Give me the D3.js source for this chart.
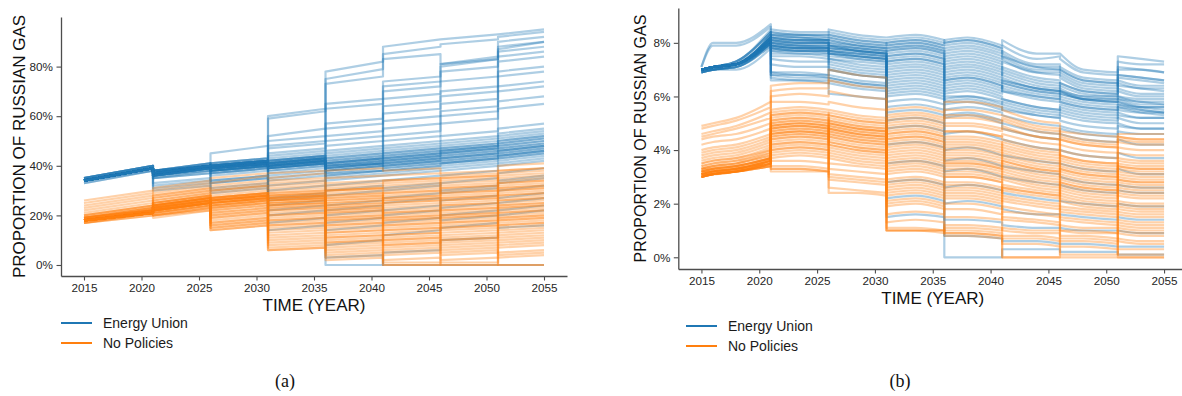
<!DOCTYPE html>
<html>
<head>
<meta charset="utf-8">
<script src="https://cdn.jsdelivr.net/npm/d3@7"></script>
<style>
  body { margin: 0; background: #fff; }
  svg { display: block; }
  text { font-family: "Liberation Sans", Arial, Helvetica, sans-serif; }
</style>
</head>
<body>
<svg id="chart" width="1182" height="396"></svg>
<script>
// ---------------------------------------------------------------------------
// Shared settings
// ---------------------------------------------------------------------------
const seriesNames  = ["Energy Union", "No Policies"];
const seriesColors = ["#1f77b4", "#ff7f0e"];
const xTickYears   = [2015, 2020, 2025, 2030, 2035, 2040, 2045, 2050, 2055];
const yTicksA      = [0, 0.2, 0.4, 0.6, 0.8];
const yTicksB      = [0, 0.02, 0.04, 0.06, 0.08];

// Policy periods; panel (a) stores the value at the start and end of each.
const knotYearsA = [[2015, 2021], [2021, 2026], [2026, 2031], [2031, 2036],
                    [2036, 2041], [2041, 2046], [2046, 2051], [2051, 2055]];
// Panel (b) stores a few yearly knots inside each period.
const knotYearsB = [[2015, 2016, 2018, 2021], [2021, 2023.5, 2026], [2026, 2028.5, 2031],
                    [2031, 2033.5, 2036], [2036, 2038, 2041], [2041, 2044, 2046],
                    [2046, 2048, 2051], [2051, 2053, 2055]];

// ---------------------------------------------------------------------------
// Panel (a): proportion of Russian gas (%), one row per model run
// ---------------------------------------------------------------------------
const runsEnergyUnionA = [
  [34,39, 37,40, 45,48, 60,63, 78,82, 88,91, 91,93, 93,95],
  [34,39, 38,41, 41,43, 59,62, 75,79, 85,88, 89,91, 92,94],
  [34,39, 37,40, 40,42, 52,55, 73,76, 83,85, 81,84, 90,92],
  [34,39, 38,40, 41,43, 50,52, 65,67, 74,76, 80,83, 88,90],
  [35,40, 37,40, 40,42, 47,49, 63,65, 72,74, 78,80, 84,86],
  [34,39, 36,39, 39,41, 45,47, 57,59, 70,72, 74,76, 82,84],
  [34,39, 37,40, 40,42, 44,46, 55,57, 67,69, 70,72, 78,80],
  [34,39, 37,40, 41,43, 48,50, 52,54, 64,66, 68,70, 76,78],
  [33,38, 36,39, 39,41, 43,45, 50,52, 61,63, 65,67, 72,74],
  [34,39, 38,41, 40,42, 42,44, 48,50, 58,60, 62,64, 70,72],
  [34,39, 37,40, 39,41, 41,43, 46,48, 55,57, 60,62, 66,68],
  [35,40, 36,39, 38,40, 40,42, 45,47, 52,54, 57,59, 63,65],
  [34,39, 37,40, 40,42, 42,44, 44,46, 50,52, 81,83, 86,88],
  [34,39, 38,40, 40,42, 41,43, 43,45, 48,50, 52,54, 87,90],
  [34,39, 37,39, 39,41, 41,43, 42,44, 46,48, 50,52, 55,57],
  [34,39, 36,39, 39,41, 40,42, 41,43, 45,47, 48,50, 53,55],
  [34,38, 37,40, 39,41, 40,42, 40,42, 44,46, 47,49, 51,53],
  [34,39, 37,40, 38,40, 39,41, 39,41, 43,45, 46,48, 50,52],
  [35,40, 38,40, 39,41, 40,42, 40,41, 42,44, 45,47, 48,50],
  [34,39, 37,39, 38,40, 39,41, 38,40, 41,43, 44,46, 47,49],
  [34,39, 36,39, 38,40, 38,40, 37,39, 40,42, 43,45, 46,48],
  [34,39, 37,40, 39,41, 39,41, 38,40, 40,42, 42,44, 45,47],
  [33,38, 36,38, 37,39, 37,39, 37,38, 39,41, 41,43, 44,46],
  [34,39, 35,38, 37,39, 36,38, 36,38, 38,40, 40,42, 43,45],
  [34,39, 36,39, 37,39, 35,37, 35,37, 37,39, 39,41, 42,44],
  [34,39, 35,37, 36,38, 34,36, 34,36, 36,38, 38,40, 41,43],
  [34,39, 37,40, 39,41, 40,42, 41,43, 43,45, 45,47, 47,49],
  [34,39, 38,41, 40,42, 41,43, 42,44, 44,46, 46,48, 49,51],
  [35,40, 38,40, 39,41, 40,42, 39,41, 41,43, 43,45, 46,48],
  [34,39, 37,39, 38,40, 39,41, 40,42, 42,44, 44,46, 46,48],
  [34,39, 36,38, 38,40, 39,41, 38,40, 39,41, 41,43, 44,46],
  [35,40, 37,40, 39,41, 40,42, 41,43, 45,47, 47,49, 50,52],
  [34,39, 38,41, 40,42, 41,43, 40,42, 42,44, 46,48, 49,51],
  [34,39, 37,40, 38,40, 38,40, 39,41, 41,43, 43,45, 45,47],
  [34,39, 36,39, 39,41, 40,42, 39,41, 40,42, 42,44, 44,46],
  [35,40, 37,40, 40,42, 42,44, 41,43, 43,45, 45,47, 48,50],
  [34,39, 37,40, 39,41, 41,43, 43,45, 47,49, 49,51, 52,54],
  [34,39, 38,40, 40,42, 39,41, 36,38, 38,40, 41,43, 43,45],
  [34,39, 33,35, 34,36, 30,32, 32,34, 34,36, 36,38, 40,42],
  [34,39, 35,37, 34,36, 32,34, 30,32, 31,33, 29,31, 33,35],
  [34,39, 32,34, 33,35, 27,29, 28,30, 30,32, 33,35, 37,39],
  [34,39, 31,33, 31,33, 24,26, 24,26, 27,29, 30,32, 34,36],
  [34,39, 36,39, 33,35, 26,28, 22,24, 20,22, 23,25, 27,29],
  [34,39, 30,32, 30,32, 20,22, 20,22, 22,24, 26,28, 30,32],
  [34,39, 37,40, 38,40, 22,24, 17,19, 25,27, 18,20, 22,24],
  [34,39, 36,39, 29,31, 17,19, 14,16, 17,19, 20,22, 25,27],
  [34,39, 37,40, 40,42, 14,16,  8,10, 12,14, 15,17, 20,22],
  [34,39, 37,40, 39,41, 41,43,  0, 0,  5, 6, 10,11, 15,16],
  [34,39, 37,40, 40,42, 42,44,  3, 4,  0, 0,  0, 0,  0, 0]
];

const runsNoPoliciesA = [
  [26,30, 31,34, 35,37, 37,38, 38,39, 38,39, 37,38, 38,39],
  [25,29, 30,33, 33,36, 35,37, 35,36, 36,37, 36,37, 37,38],
  [24,28, 29,32, 32,34, 34,35, 33,34, 34,35, 35,36, 36,37],
  [23,27, 28,31, 31,33, 33,34, 31,32, 33,34, 34,35, 34,35],
  [22,26, 28,31, 30,32, 32,33, 30,31, 31,32, 32,33, 33,34],
  [21,25, 27,30, 29,31, 30,31, 29,30, 30,31, 31,32, 32,33],
  [20,24, 26,29, 28,30, 29,30, 28,29, 29,30, 30,31, 31,32],
  [20,24, 26,29, 27,29, 28,29, 26,27, 28,29, 29,30, 30,31],
  [19,23, 25,28, 26,28, 27,28, 25,26, 26,27, 27,28, 28,29],
  [19,23, 25,28, 26,28, 26,27, 24,25, 25,26, 26,27, 27,28],
  [19,23, 24,27, 25,27, 25,26, 23,24, 24,25, 25,26, 26,27],
  [19,22, 24,27, 24,26, 24,25, 22,23, 23,24, 24,25, 25,26],
  [18,22, 23,26, 24,26, 23,24, 21,22, 22,23, 23,24, 24,25],
  [18,22, 23,26, 23,25, 22,23, 20,21, 21,22, 22,23, 23,24],
  [18,22, 22,25, 22,24, 21,22, 19,20, 20,21, 21,22, 22,23],
  [18,21, 22,25, 21,23, 20,21, 18,19, 19,20, 20,21, 21,22],
  [18,21, 21,24, 20,22, 19,20, 17,18, 18,19, 19,20, 20,21],
  [18,21, 21,24, 20,22, 18,19, 16,17, 17,18, 18,19, 19,20],
  [18,21, 21,24, 19,21, 17,18, 15,16, 16,17, 17,18, 18,19],
  [18,21, 20,23, 19,21, 16,17, 14,15, 15,16, 16,17, 17,18],
  [17,21, 20,23, 18,20, 15,16, 13,14, 14,15, 15,16, 16,17],
  [17,21, 20,23, 17,19, 14,15, 12,13, 13,14, 14,15, 15,16],
  [17,20, 20,22, 17,19, 13,14, 11,12, 12,13, 12,13, 13,14],
  [17,20, 19,22, 16,18, 12,13, 10,11, 11,12, 11,12, 12,13],
  [18,21, 22,25, 16,18, 11,12,  9,10, 10,11, 10,11, 11,12],
  [18,21, 22,25, 15,17, 10,11,  8, 9,  9,10,  9,10, 10,11],
  [18,21, 22,25, 15,17,  9,10,  7, 8,  8, 9,  8, 9,  9,10],
  [18,21, 22,25, 14,16,  8, 9,  6, 7,  7, 8,  7, 8,  8, 9],
  [18,21, 23,26, 14,16,  7, 8,  5, 6,  6, 7,  6, 7,  7, 8],
  [18,21, 23,26, 25,27,  6, 7,  4, 5,  5, 6,  5, 6,  5, 6],
  [18,21, 24,27, 26,28,  6, 7,  3, 4,  4, 5,  4, 5,  4, 5],
  [18,21, 24,27, 27,29, 28,29,  2, 3,  2, 3,  2, 3,  3, 4],
  [18,21, 23,26, 26,28, 27,28, 28,29,  0, 0, 35,36,  0, 0],
  [19,22, 25,28, 27,29, 29,30, 30,31,  1, 1,  1, 1, 38,39],
  [18,21, 22,25, 25,27, 26,27, 27,28,  0, 0,  0, 0,  0, 0],
  [20,24, 27,30, 30,32, 31,32, 32,33, 34,35,  0, 0, 40,41],
  [19,23, 25,28, 27,29, 28,29, 30,31, 32,33, 33,34, 35,36],
  [18,22, 24,27, 26,28, 27,28, 27,28, 29,30, 31,32, 33,34],
  [18,21, 23,26, 25,27, 26,27, 25,26, 27,28, 28,29, 31,32],
  [18,21, 23,26, 26,28, 25,26, 24,25, 26,27, 27,28, 29,30],
  [18,21, 22,25, 25,27, 24,25, 23,24, 25,26, 26,27, 28,29],
  [18,22, 24,27, 27,29, 27,28, 26,27, 27,28, 29,30, 30,31],
  [19,22, 24,27, 26,28, 26,27, 22,23, 21,22, 24,25, 26,27],
  [18,21, 23,26, 24,26, 25,26, 21,22, 19,20, 22,23, 24,25],
  [18,21, 22,25, 23,25, 24,25, 19,20, 18,19, 20,21, 23,24],
  [18,21, 22,25, 22,24, 23,24, 18,19, 16,17, 19,20, 21,22],
  [19,22, 24,27, 25,27, 22,23, 16,17, 14,15, 17,18, 19,20],
  [18,21, 23,26, 24,26, 20,21, 13,14, 12,13, 15,16, 18,19],
  [18,21, 22,25, 23,25, 18,19, 11,12, 10,11, 13,14, 16,17],
  [18,21, 21,24, 21,23, 16,17,  9,10,  8, 9, 10,11, 14,15]
];

// ---------------------------------------------------------------------------
// Panel (b): proportion of Russian gas (%), one row per model run
// ---------------------------------------------------------------------------
const runsEnergyUnionB = [
  [7.1,8.0,8.0,8.7, 8.5,8.4,8.4, 8.4,8.2,8.1, 8.1,8.2,8.0, 8.1,8.2,7.9, 8.1,7.6,7.6, 7.6,7.0,6.9, 7.5,7.4,7.3],
  [7.1,7.9,7.9,8.6, 8.4,8.3,8.3, 8.3,8.1,8.0, 8.0,8.1,7.9, 8.0,8.1,7.8, 7.9,7.4,7.5, 7.4,6.9,6.8, 7.3,7.2,7.2],
  [7.0,7.1,7.3,8.5, 8.3,8.3,8.2, 8.2,8.0,7.9, 7.9,8.0,7.8, 7.8,7.9,7.6, 7.7,7.2,7.2, 7.1,6.7,6.6, 7.0,7.0,6.9],
  [7.0,7.1,7.3,8.4, 8.2,8.2,8.1, 8.1,7.9,7.8, 7.7,7.8,7.6, 7.6,7.7,7.4, 7.5,7.0,7.0, 6.9,6.5,6.4, 6.8,6.7,6.6],
  [7.0,7.1,7.2,8.3, 8.1,8.1,8.0, 7.9,7.8,7.7, 7.6,7.7,7.5, 7.4,7.5,7.2, 7.3,6.9,6.8, 6.7,6.3,6.2, 6.6,6.4,6.4],
  [7.0,7.0,7.2,8.2, 8.0,8.0,8.0, 7.8,7.7,7.6, 7.4,7.5,7.3, 7.2,7.3,7.0, 7.1,6.7,6.6, 6.5,6.2,6.1, 6.3,6.1,6.1],
  [7.0,7.0,7.2,8.1, 7.9,7.9,7.8, 7.7,7.5,7.4, 7.2,7.3,7.1, 7.0,7.1,6.8, 6.9,6.5,6.4, 6.3,6.0,6.0, 6.0,5.9,5.9],
  [6.9,7.0,7.1,8.0, 7.8,7.8,7.7, 7.6,7.4,7.3, 7.0,7.1,6.9, 6.9,7.0,6.7, 6.7,6.3,6.2, 6.1,5.9,5.8, 5.9,5.7,5.7],
  [6.9,7.0,7.1,7.9, 7.7,7.7,7.6, 7.4,7.2,7.1, 6.8,6.9,6.7, 6.7,6.8,6.5, 6.5,6.2,6.1, 6.0,5.8,5.7, 5.8,5.6,5.5],
  [6.9,7.0,7.1,7.9, 7.6,7.6,7.5, 7.2,7.0,6.9, 6.6,6.7,6.5, 6.5,6.6,6.3, 6.4,6.1,6.0, 5.9,5.7,5.6, 5.7,5.5,5.4],
  [6.9,7.0,7.0,7.8, 7.5,7.5,7.4, 7.0,6.8,6.7, 6.4,6.5,6.3, 6.3,6.4,6.1, 6.2,6.0,5.9, 5.8,5.6,5.5, 5.6,5.4,5.3],
  [7.0,7.1,7.2,8.2, 8.4,8.3,8.3, 8.5,8.3,8.2, 8.2,8.3,8.1, 8.0,8.1,7.8, 7.5,7.1,7.0, 7.0,6.6,6.5, 6.4,6.3,6.2],
  [7.0,7.1,7.2,8.3, 8.2,8.1,8.1, 8.0,7.9,7.8, 7.8,7.9,7.7, 7.5,7.6,7.3, 6.6,6.3,6.2, 6.2,5.9,5.8, 5.8,5.6,5.6],
  [7.0,7.1,7.3,8.4, 8.3,8.2,8.2, 8.2,8.0,7.9, 8.0,8.1,7.9, 7.9,8.0,7.7, 7.6,7.1,7.1, 7.0,6.6,6.5, 6.7,6.6,6.5],
  [7.0,7.1,7.2,8.3, 8.2,8.1,8.1, 8.1,7.9,7.8, 7.8,7.9,7.7, 7.7,7.8,7.5, 7.4,6.9,6.9, 6.8,6.4,6.3, 6.5,6.3,6.3],
  [6.9,7.0,7.2,8.2, 8.1,8.0,8.0, 8.0,7.8,7.7, 7.7,7.8,7.6, 7.3,7.4,7.1, 7.0,6.6,6.5, 6.4,6.1,6.0, 6.2,6.0,6.0],
  [7.0,7.1,7.2,8.1, 8.0,7.9,7.9, 7.9,7.7,7.6, 7.5,7.6,7.4, 7.1,7.2,6.9, 6.8,6.4,6.3, 6.2,5.9,5.9, 6.0,5.8,5.8],
  [7.0,7.1,7.3,8.4, 8.3,8.2,8.1, 8.3,8.1,8.0, 7.9,8.0,7.8, 6.8,6.9,6.6, 6.5,6.2,6.1, 6.1,5.9,5.8, 5.9,5.8,5.7],
  [7.0,7.1,7.2,8.2, 8.1,8.0,8.0, 7.9,7.7,7.6, 7.3,7.4,7.2, 6.6,6.7,6.4, 6.2,5.9,5.8, 5.8,5.6,5.5, 5.7,5.6,5.6],
  [6.9,7.0,7.1,8.0, 7.9,7.8,7.8, 7.7,7.6,7.5, 7.1,7.2,7.0, 6.2,6.3,6.0, 5.9,5.6,5.5, 5.6,5.4,5.3, 5.6,5.5,5.4],
  [7.0,7.1,7.2,8.2, 6.9,6.8,6.8, 6.8,6.6,6.5, 6.3,6.4,6.2, 6.1,6.2,5.9, 5.9,5.6,5.5, 5.5,5.3,5.2, 5.4,5.2,5.2],
  [7.0,7.1,7.2,8.1, 6.8,6.7,6.7, 6.7,6.5,6.4, 6.2,6.3,6.1, 6.0,6.0,5.8, 5.7,5.4,5.3, 5.3,5.1,5.0, 5.2,5.0,5.0],
  [6.9,7.0,7.1,8.0, 6.7,6.6,6.6, 6.6,6.4,6.3, 6.0,6.1,5.9, 5.8,5.9,5.6, 5.5,5.3,5.2, 5.1,4.9,4.8, 5.0,4.8,4.8],
  [7.0,7.1,7.2,8.0, 6.6,6.6,6.5, 6.5,6.3,6.2, 5.8,5.9,5.7, 5.5,5.6,5.4, 5.3,5.0,4.9, 4.9,4.7,4.6, 4.7,4.6,4.6],
  [7.0,7.1,7.2,8.1, 6.8,6.8,6.7, 6.7,6.5,6.4, 6.1,6.2,6.0, 5.9,6.0,5.7, 5.8,5.5,5.4, 5.7,5.5,5.4, 5.5,5.4,5.4],
  [7.0,7.1,7.2,8.2, 6.9,6.9,6.8, 7.0,6.8,6.7, 6.5,6.6,6.4, 5.7,5.8,5.5, 5.6,5.3,5.2, 5.4,5.2,5.1, 5.3,5.2,5.2],
  [7.0,7.1,7.2,8.3, 7.4,7.3,7.3, 7.3,7.1,7.0, 6.9,7.0,6.8, 6.6,6.7,6.4, 6.3,6.0,5.9, 6.5,6.2,6.1, 7.1,7.0,6.9],
  [7.0,7.1,7.2,8.1, 7.2,7.1,7.1, 7.1,6.9,6.8, 6.7,6.8,6.6, 6.4,6.5,6.2, 6.6,6.3,6.2, 6.2,6.0,5.9, 6.8,6.7,6.6],
  [7.0,7.1,7.2,8.0, 7.9,7.8,7.8, 6.1,6.0,5.9, 5.4,5.5,5.3, 5.2,5.3,5.0, 5.0,4.7,4.6, 4.6,4.4,4.3, 4.4,4.2,4.2],
  [7.0,7.1,7.2,8.0, 7.8,7.7,7.7, 7.6,7.5,7.4, 5.6,5.7,5.5, 5.3,5.4,5.1, 4.8,4.5,4.4, 4.8,4.6,4.5, 4.9,4.8,4.8],
  [7.0,7.1,7.2,8.1, 8.0,7.9,7.9, 7.7,7.6,7.5, 4.8,4.9,4.7, 4.6,4.7,4.4, 4.4,4.1,4.0, 4.0,3.8,3.7, 3.9,3.7,3.7],
  [7.0,7.1,7.2,8.2, 8.1,8.0,8.0, 7.8,7.7,7.6, 4.2,4.3,4.1, 4.0,4.1,3.8, 3.8,3.6,3.5, 3.5,3.3,3.2, 3.3,3.1,3.1],
  [7.0,7.1,7.2,8.1, 7.9,7.8,7.8, 7.7,7.6,7.5, 5.1,5.2,5.0, 3.6,3.7,3.4, 3.4,3.2,3.1, 3.0,2.8,2.7, 2.7,2.6,2.6],
  [7.0,7.1,7.2,8.0, 7.8,7.7,7.7, 7.5,7.4,7.3, 3.5,3.6,3.4, 3.2,3.3,3.0, 3.0,2.8,2.7, 2.7,2.5,2.4, 2.5,2.4,2.4],
  [7.0,7.1,7.2,8.1, 7.9,7.8,7.8, 7.6,7.5,7.4, 2.8,2.9,2.7, 2.6,2.7,2.5, 2.4,2.2,2.1, 2.1,2.0,1.9, 2.0,1.9,1.9],
  [7.0,7.1,7.2,8.2, 8.2,8.1,8.1, 7.9,7.8,7.7, 2.2,2.3,2.1, 2.0,2.1,1.9, 1.8,1.6,1.6, 1.6,1.5,1.4, 1.5,1.4,1.4],
  [7.0,7.1,7.2,8.0, 7.7,7.6,7.6, 7.4,7.3,7.2, 1.5,1.6,1.5, 1.4,1.4,1.3, 1.2,1.1,1.1, 1.1,1.0,1.0, 1.0,0.9,0.9],
  [7.0,7.1,7.2,8.1, 7.8,7.7,7.7, 7.6,7.5,7.4, 7.3,7.4,7.2, 0.8,0.8,0.7, 0.6,0.6,0.5, 0.5,0.5,0.4, 0.4,0.4,0.4],
  [7.0,7.1,7.2,8.2, 8.0,7.9,7.9, 7.8,7.7,7.6, 7.5,7.6,7.4, 0.0,0.0,0.0, 0.3,0.3,0.3, 0.2,0.2,0.2, 0.1,0.1,0.1]
];

const runsNoPoliciesB = [
  [4.9,5.0,5.2,5.8, 6.4,6.5,6.5, 7.0,6.8,6.7, 5.5,5.6,5.4, 5.8,5.8,5.6, 5.5,5.1,5.0, 4.7,4.6,4.5, 4.6,4.6,4.6],
  [4.8,4.9,5.1,5.6, 6.2,6.3,6.3, 6.6,6.4,6.3, 5.3,5.4,5.2, 5.5,5.5,5.3, 5.3,4.9,4.8, 4.6,4.4,4.3, 4.5,4.4,4.4],
  [4.6,4.7,4.9,5.4, 6.0,6.1,6.0, 6.2,6.0,5.9, 5.1,5.2,5.0, 5.2,5.2,5.0, 5.1,4.7,4.6, 4.4,4.2,4.1, 4.3,4.2,4.2],
  [4.5,4.6,4.8,5.2, 5.8,5.8,5.7, 5.8,5.6,5.5, 4.9,5.0,4.8, 4.9,4.9,4.7, 4.8,4.5,4.4, 4.2,4.0,3.9, 4.1,4.0,4.0],
  [4.4,4.5,4.6,5.0, 5.5,5.6,5.5, 5.5,5.3,5.2, 4.7,4.8,4.6, 4.7,4.7,4.5, 4.6,4.3,4.2, 4.0,3.8,3.7, 3.9,3.8,3.8],
  [4.2,4.3,4.4,4.8, 5.3,5.4,5.3, 5.3,5.1,5.0, 4.5,4.6,4.4, 4.4,4.4,4.2, 4.3,4.0,3.9, 3.8,3.6,3.5, 3.7,3.6,3.6],
  [4.0,4.1,4.2,4.6, 5.1,5.2,5.1, 5.1,4.9,4.8, 4.3,4.4,4.2, 4.2,4.2,4.0, 4.1,3.8,3.7, 3.6,3.4,3.3, 3.5,3.4,3.4],
  [3.8,3.9,4.0,4.4, 4.9,5.0,4.9, 4.9,4.7,4.6, 4.1,4.2,4.0, 4.0,4.0,3.8, 3.9,3.6,3.5, 3.4,3.2,3.1, 3.3,3.2,3.2],
  [3.6,3.7,3.8,4.2, 4.8,4.9,4.8, 4.7,4.5,4.4, 3.9,4.0,3.8, 3.8,3.8,3.6, 3.7,3.4,3.3, 3.2,3.0,2.9, 3.1,3.0,3.0],
  [3.5,3.6,3.7,4.0, 4.6,4.7,4.6, 4.5,4.3,4.2, 3.7,3.8,3.6, 3.6,3.6,3.4, 3.5,3.2,3.1, 3.0,2.8,2.7, 2.9,2.8,2.8],
  [3.4,3.5,3.6,3.9, 4.5,4.6,4.5, 4.3,4.1,4.0, 3.5,3.6,3.4, 3.4,3.4,3.2, 3.3,3.0,2.9, 2.8,2.6,2.5, 2.7,2.6,2.6],
  [3.3,3.4,3.5,3.8, 4.4,4.5,4.4, 4.1,3.9,3.8, 3.3,3.4,3.2, 3.2,3.2,3.0, 3.1,2.8,2.7, 2.6,2.4,2.3, 2.5,2.4,2.4],
  [3.3,3.3,3.4,3.7, 4.2,4.3,4.2, 3.9,3.7,3.6, 3.1,3.2,3.0, 3.0,3.0,2.8, 2.9,2.6,2.5, 2.4,2.2,2.1, 2.3,2.2,2.2],
  [3.2,3.3,3.4,3.7, 4.1,4.2,4.1, 3.7,3.5,3.4, 2.9,3.0,2.8, 2.8,2.8,2.6, 2.7,2.5,2.4, 2.3,2.1,2.0, 2.1,2.0,2.0],
  [3.2,3.2,3.3,3.6, 4.0,4.1,4.0, 3.5,3.4,3.3, 2.7,2.8,2.6, 2.6,2.6,2.4, 2.5,2.3,2.2, 2.1,1.9,1.8, 1.9,1.8,1.8],
  [3.1,3.2,3.3,3.6, 3.9,4.0,3.9, 3.3,3.2,3.1, 2.5,2.6,2.4, 2.4,2.4,2.2, 2.3,2.1,2.0, 1.9,1.8,1.7, 1.8,1.7,1.7],
  [3.1,3.2,3.3,3.5, 3.8,3.9,3.8, 3.1,3.0,2.9, 2.3,2.4,2.2, 2.2,2.2,2.0, 2.1,1.9,1.8, 1.7,1.6,1.5, 1.6,1.5,1.5],
  [3.1,3.1,3.2,3.5, 3.7,3.8,3.7, 2.9,2.8,2.7, 2.1,2.2,2.0, 2.0,2.0,1.8, 1.9,1.7,1.6, 1.5,1.4,1.3, 1.4,1.3,1.3],
  [3.0,3.1,3.2,3.4, 3.6,3.6,3.5, 2.4,2.4,2.3, 1.9,2.0,1.8, 1.8,1.8,1.6, 1.7,1.6,1.5, 1.4,1.3,1.2, 1.3,1.2,1.2],
  [3.0,3.1,3.2,3.4, 3.4,3.4,3.3, 4.8,4.6,4.5, 1.0,1.0,1.0, 1.2,1.2,1.1, 1.0,0.9,0.9, 0.8,0.8,0.7, 0.9,0.8,0.8],
  [3.0,3.1,3.2,3.5, 3.2,3.2,3.2, 5.0,4.8,4.7, 1.0,1.0,0.9, 1.0,1.0,0.9, 0.8,0.8,0.7, 0.7,0.7,0.6, 0.7,0.6,0.6],
  [3.1,3.2,3.3,3.6, 4.8,4.9,4.8, 5.0,4.8,4.7, 1.3,1.4,1.3, 0.8,0.8,0.7, 0.0,0.0,0.0, 0.0,0.0,0.0, 0.0,0.0,0.0],
  [3.2,3.3,3.4,3.7, 5.0,5.1,5.0, 5.2,5.0,4.9, 4.6,4.7,4.5, 4.5,4.5,4.3, 0.0,0.0,0.0, 4.4,4.2,4.1, 0.0,0.0,0.0],
  [3.3,3.4,3.5,3.8, 4.7,4.8,4.7, 4.6,4.4,4.3, 4.8,4.9,4.7, 4.7,4.7,4.5, 4.4,4.1,4.0, 0.1,0.1,0.1, 4.5,4.4,4.4],
  [3.2,3.3,3.4,3.7, 4.9,5.0,4.9, 4.8,4.6,4.5, 5.0,5.1,4.9, 5.0,5.0,4.8, 4.9,4.5,4.4, 3.8,3.6,3.5, 0.1,0.1,0.1],
  [3.4,3.5,3.6,4.0, 5.2,5.3,5.2, 5.0,4.8,4.7, 4.4,4.5,4.3, 3.5,3.5,3.3, 3.6,3.3,3.2, 3.3,3.1,3.0, 3.4,3.3,3.3],
  [3.5,3.6,3.7,4.1, 5.4,5.5,5.4, 4.2,4.0,3.9, 3.4,3.5,3.3, 2.5,2.5,2.3, 2.6,2.4,2.3, 2.8,2.6,2.5, 2.9,2.8,2.8],
  [3.7,3.8,3.9,4.3, 4.6,4.7,4.6, 4.0,3.8,3.7, 1.6,1.7,1.6, 3.0,3.0,2.8, 1.4,1.3,1.2, 1.0,1.0,0.9, 1.1,1.0,1.0],
  [3.9,4.0,4.1,4.5, 3.3,3.3,3.2, 2.6,2.5,2.4, 2.6,2.7,2.5, 0.9,0.9,0.8, 0.5,0.5,0.4, 0.4,0.4,0.3, 0.3,0.3,0.3],
  [3.0,3.1,3.2,3.4, 3.3,3.3,3.2, 3.0,2.9,2.8, 1.1,1.1,1.0, 0.9,0.9,0.8, 0.7,0.7,0.6, 0.6,0.6,0.5, 0.6,0.5,0.5],
  [3.0,3.1,3.2,3.5, 4.7,4.8,4.7, 4.9,4.7,4.6, 4.6,4.7,4.5, 4.3,4.3,4.1, 4.2,3.9,3.8, 3.7,3.5,3.4, 3.6,3.5,3.5],
  [3.1,3.2,3.3,3.6, 4.5,4.6,4.5, 4.8,4.6,4.5, 4.4,4.5,4.3, 4.1,4.1,3.9, 4.0,3.7,3.6, 3.5,3.3,3.2, 3.4,3.3,3.3],
  [3.0,3.1,3.2,3.5, 4.3,4.4,4.3, 4.6,4.4,4.3, 4.2,4.3,4.1, 3.9,3.9,3.7, 3.8,3.5,3.4, 3.3,3.1,3.0, 3.2,3.1,3.1],
  [3.1,3.1,3.2,3.6, 5.0,5.1,5.0, 4.4,4.2,4.1, 4.0,4.1,3.9, 3.7,3.7,3.5, 3.6,3.3,3.2, 3.1,2.9,2.8, 3.0,2.9,2.9],
  [3.2,3.2,3.3,3.6, 4.8,4.9,4.8, 4.2,4.0,3.9, 3.8,3.9,3.7, 3.5,3.5,3.3, 3.4,3.1,3.0, 2.9,2.7,2.6, 2.8,2.7,2.7],
  [3.1,3.2,3.3,3.7, 5.1,5.2,5.1, 5.1,4.9,4.8, 3.6,3.7,3.5, 3.3,3.3,3.1, 3.2,2.9,2.8, 2.7,2.5,2.4, 2.6,2.5,2.5],
  [3.0,3.1,3.2,3.5, 4.6,4.7,4.6, 4.7,4.5,4.4, 3.2,3.3,3.1, 3.1,3.1,2.9, 3.0,2.7,2.6, 2.5,2.3,2.2, 2.4,2.3,2.3],
  [3.2,3.3,3.4,3.7, 4.4,4.5,4.4, 4.5,4.3,4.2, 2.8,2.9,2.7, 2.7,2.7,2.5, 2.6,2.4,2.3, 2.2,2.0,1.9, 2.0,1.9,1.9],
  [3.1,3.2,3.3,3.6, 4.2,4.3,4.2, 4.3,4.1,4.0, 2.4,2.5,2.3, 2.3,2.3,2.1, 2.2,2.0,1.9, 1.8,1.7,1.6, 1.7,1.6,1.6],
  [3.0,3.1,3.2,3.4, 4.0,4.1,4.0, 3.8,3.6,3.5, 2.0,2.1,1.9, 1.5,1.5,1.4, 1.5,1.4,1.3, 1.2,1.1,1.1, 1.2,1.1,1.1],
  [3.3,3.4,3.5,3.9, 5.3,5.4,5.3, 5.4,5.2,5.1, 1.0,1.0,1.0, 1.1,1.1,1.0, 1.1,1.0,1.0, 1.0,0.9,0.9, 1.0,0.9,0.9],
  [3.0,3.1,3.2,3.5, 4.9,5.0,4.9, 5.3,5.1,5.0, 5.2,5.3,5.1, 5.3,5.3,5.1, 5.2,4.8,4.7, 4.5,4.3,4.2, 4.4,4.3,4.3]
];

// ---------------------------------------------------------------------------
// Drawing
// ---------------------------------------------------------------------------
const svg = d3.select("#chart");
const AXIS_COLOR = "#4d4d4d";
const LABEL_COLOR = "#262626";

// Build one continuous path per run: each period is its own curve and the
// jumps between periods become vertical steps.
function runPath(row, knots, x, y, curve) {
  const line = d3.line().x(p => x(p[0])).y(p => y(p[1])).curve(curve);
  let i = 0, d = "";
  knots.forEach((years, k) => {
    const pts = years.map(yr => [yr, row[i++] / 100]);
    const seg = line(pts);
    d += k === 0 ? seg : "L" + seg.slice(1);
  });
  return d;
}

function drawPanel(cfg) {
  const x = d3.scaleLinear().domain([2013, 2057]).range(cfg.xRange);
  const y = d3.scaleLinear().domain(cfg.yDomain).range(cfg.yRange);
  const g = svg.append("g");

  // runs, one group per scenario (Energy Union below No Policies)
  cfg.runs.forEach((rows, s) => {
    g.append("g")
      .selectAll("path")
      .data(rows)
      .join("path")
      .attr("d", r => runPath(r, cfg.knots, x, y, cfg.curve))
      .attr("fill", "none")
      .attr("stroke", seriesColors[s])
      .attr("stroke-width", 2.2)
      .attr("stroke-opacity", 0.36)
      .attr("stroke-linejoin", "round");
  });

  // axes
  const xAxis = g.append("g")
    .attr("transform", `translate(0,${cfg.yRange[0]})`)
    .call(d3.axisBottom(x).tickValues(xTickYears).tickFormat(d3.format("d"))
      .tickSize(4.5).tickSizeOuter(0).tickPadding(3.5));
  const yAxis = g.append("g")
    .attr("transform", `translate(${cfg.xRange[0]},0)`)
    .call(d3.axisLeft(y).tickValues(cfg.yTicks).tickFormat(d3.format(".0%"))
      .tickSize(4.5).tickSizeOuter(0).tickPadding(3.5));
  [xAxis, yAxis].forEach(a => {
    a.select(".domain").attr("stroke", AXIS_COLOR).attr("stroke-width", 1.3);
    a.selectAll(".tick line").attr("stroke", AXIS_COLOR).attr("stroke-width", 1.1);
    a.selectAll(".tick text")
      .attr("fill", LABEL_COLOR)
      .style("font-size", "11.7px")
      .style("font-family", '"Liberation Sans", Arial, sans-serif');
  });

  // axis titles
  const yMid = (cfg.yRange[0] + cfg.yRange[1]) / 2;
  g.append("text")
    .attr("transform", `translate(${cfg.yLabelX},${yMid}) rotate(-90)`)
    .attr("text-anchor", "middle")
    .attr("dominant-baseline", "central")
    .attr("fill", "#111")
    .style("font-size", cfg.yLabelSize + "px")
    .text("PROPORTION OF RUSSIAN GAS");
  g.append("text")
    .attr("x", x(2035))
    .attr("y", cfg.yRange[0] + 29)
    .attr("text-anchor", "middle")
    .attr("dominant-baseline", "central")
    .attr("fill", "#111")
    .style("font-size", "17px")
    .text("TIME (YEAR)");

  // legend
  seriesNames.forEach((name, s) => {
    const ly = cfg.legendY + s * 20;
    g.append("line")
      .attr("x1", cfg.legendX).attr("x2", cfg.legendX + 31)
      .attr("y1", ly).attr("y2", ly)
      .attr("stroke", seriesColors[s]).attr("stroke-width", 2);
    g.append("text")
      .attr("x", cfg.legendX + 42).attr("y", ly)
      .attr("dominant-baseline", "central")
      .attr("fill", "#1a1a1a")
      .style("font-size", "14px")
      .text(name);
  });

  // sub-caption
  g.append("text")
    .attr("x", cfg.captionX).attr("y", 381)
    .attr("text-anchor", "middle")
    .attr("dominant-baseline", "central")
    .attr("fill", "#111")
    .style("font-family", '"Liberation Serif", "DejaVu Serif", serif')
    .style("font-size", "18px")
    .text(cfg.caption);
}

drawPanel({
  runs: [runsEnergyUnionA, runsNoPoliciesA],
  knots: knotYearsA,
  curve: d3.curveLinear,
  xRange: [61, 567],
  yDomain: [-0.0444, 1.0],
  yRange: [276, 17],
  yTicks: yTicksA,
  yLabelX: 19,
  yLabelSize: 17,
  legendX: 61, legendY: 323,
  captionX: 285, caption: "(a)"
});

drawPanel({
  runs: [runsEnergyUnionB, runsNoPoliciesB],
  knots: knotYearsB,
  curve: d3.curveMonotoneX,
  xRange: [678.3, 1187.2],
  yDomain: [-0.00437, 0.0930],
  yRange: [269, 8],
  yTicks: yTicksB,
  yLabelX: 640.5,
  yLabelSize: 16,
  legendX: 686, legendY: 326,
  captionX: 900, caption: "(b)"
});
</script>
</body>
</html>
